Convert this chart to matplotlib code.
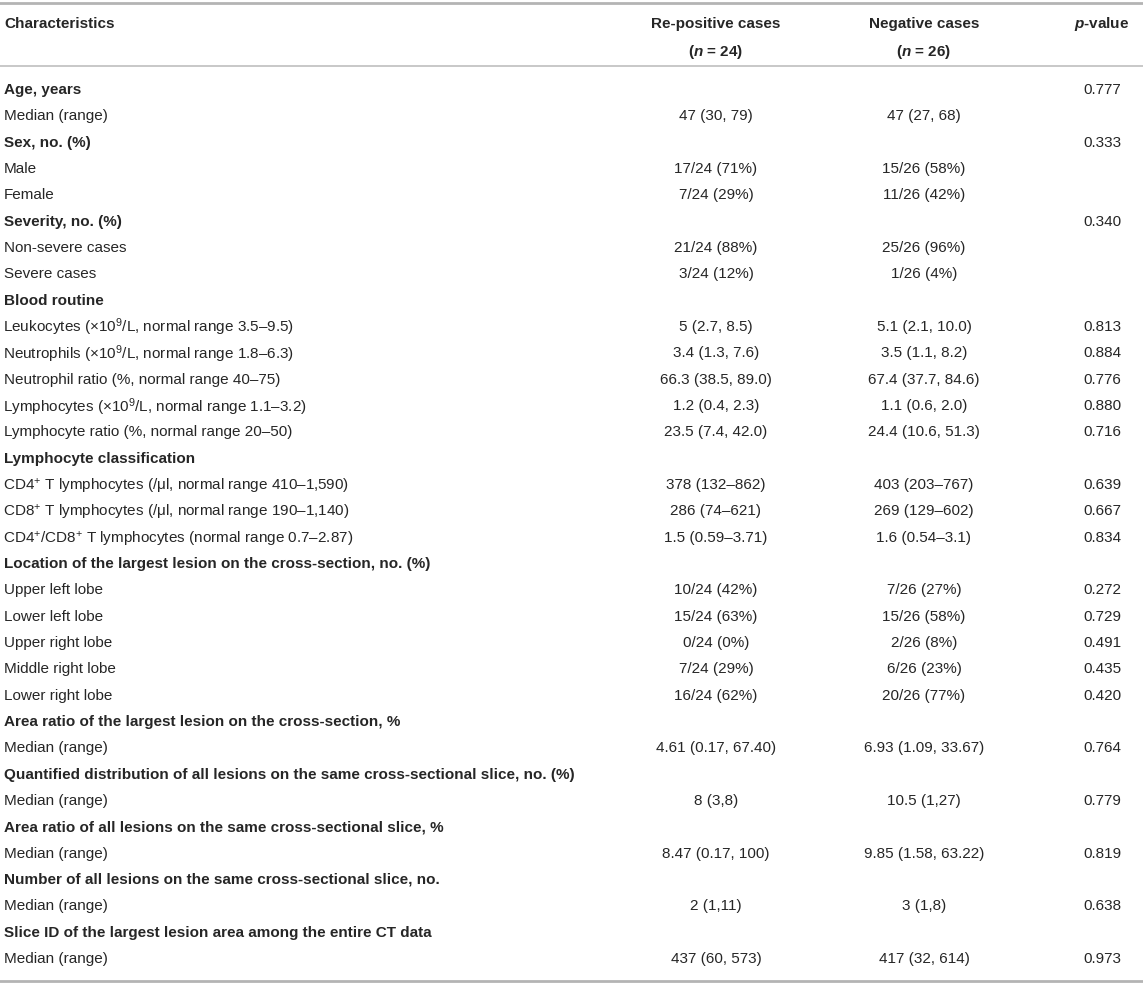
import matplotlib
matplotlib.use("Agg")
import matplotlib.pyplot as plt

plt.rcParams.update({
    "font.family": ["Liberation Sans", "DejaVu Sans"],
    "mathtext.fontset": "custom",
    "mathtext.rm": "Liberation Sans",
    "mathtext.it": "Liberation Sans:italic",
    "mathtext.bf": "Liberation Sans:bold",
    "mathtext.bfit": "Liberation Sans:italic:bold",
})

# ---- table content ----
headers = ["Characteristics", "Re-positive cases\n($\\mathbfit{n}$ = 24)",
           "Negative cases\n($\\mathbfit{n}$ = 26)", "$\\mathbfit{p}$-value"]

labels = [
    "Age, years", "Median (range)",
    "Sex, no. (%)", "Male", "Female",
    "Severity, no. (%)", "Non-severe cases", "Severe cases",
    "Blood routine",
    "Leukocytes (×10$^{9}$/L, normal range 3.5–9.5)",
    "Neutrophils (×10$^{9}$/L, normal range 1.8–6.3)",
    "Neutrophil ratio (%, normal range 40–75)",
    "Lymphocytes (×10$^{9}$/L, normal range 1.1–3.2)",
    "Lymphocyte ratio (%, normal range 20–50)",
    "Lymphocyte classification",
    "CD4$^{+}$ T lymphocytes (/μl, normal range 410–1,590)",
    "CD8$^{+}$ T lymphocytes (/μl, normal range 190–1,140)",
    "CD4$^{+}$/CD8$^{+}$ T lymphocytes (normal range 0.7–2.87)",
    "Location of the largest lesion on the cross-section, no. (%)",
    "Upper left lobe", "Lower left lobe", "Upper right lobe",
    "Middle right lobe", "Lower right lobe",
    "Area ratio of the largest lesion on the cross-section, %",
    "Median (range)",
    "Quantified distribution of all lesions on the same cross-sectional slice, no. (%)",
    "Median (range)",
    "Area ratio of all lesions on the same cross-sectional slice, %",
    "Median (range)",
    "Number of all lesions on the same cross-sectional slice, no.",
    "Median (range)",
    "Slice ID of the largest lesion area among the entire CT data",
    "Median (range)",
]

is_section = [1, 0, 1, 0, 0, 1, 0, 0, 1, 0, 0, 0, 0, 0, 1, 0, 0, 0, 1,
              0, 0, 0, 0, 0, 1, 0, 1, 0, 1, 0, 1, 0, 1, 0]

repositive = [
    "", "47 (30, 79)", "", "17/24 (71%)", "7/24 (29%)", "", "21/24 (88%)", "3/24 (12%)",
    "", "5 (2.7, 8.5)", "3.4 (1.3, 7.6)", "66.3 (38.5, 89.0)", "1.2 (0.4, 2.3)",
    "23.5 (7.4, 42.0)", "", "378 (132–862)", "286 (74–621)", "1.5 (0.59–3.71)",
    "", "10/24 (42%)", "15/24 (63%)", "0/24 (0%)", "7/24 (29%)", "16/24 (62%)",
    "", "4.61 (0.17, 67.40)", "", "8 (3,8)", "", "8.47 (0.17, 100)", "", "2 (1,11)",
    "", "437 (60, 573)",
]

negative = [
    "", "47 (27, 68)", "", "15/26 (58%)", "11/26 (42%)", "", "25/26 (96%)", "1/26 (4%)",
    "", "5.1 (2.1, 10.0)", "3.5 (1.1, 8.2)", "67.4 (37.7, 84.6)", "1.1 (0.6, 2.0)",
    "24.4 (10.6, 51.3)", "", "403 (203–767)", "269 (129–602)", "1.6 (0.54–3.1)",
    "", "7/26 (27%)", "15/26 (58%)", "2/26 (8%)", "6/26 (23%)", "20/26 (77%)",
    "", "6.93 (1.09, 33.67)", "", "10.5 (1,27)", "", "9.85 (1.58, 63.22)", "", "3 (1,8)",
    "", "417 (32, 614)",
]

pvalues = [
    "0.777", "", "0.333", "", "", "0.340", "", "", "", "0.813", "0.884", "0.776",
    "0.880", "0.716", "", "0.639", "0.667", "0.834", "", "0.272", "0.729", "0.491",
    "0.435", "0.420", "", "0.764", "", "0.779", "", "0.819", "", "0.638", "", "0.973",
]

# ---- layout (pixel coordinates) ----
W, H = 1143, 983
fig = plt.figure(figsize=(W / 100, H / 100), dpi=100)
ax = fig.add_axes([0, 0, 1, 1])
ax.set_xlim(0, W)
ax.set_ylim(H, 0)
ax.axis("off")

txt = "#262626"
fs = 11
col_x = [4, 716, 924, 1102]
col_ha = ["left", "center", "center", "center"]

# rules
ax.axhline(3, color="#b4b4b4", lw=2.0)
ax.axhline(66, color="#c4c4c4", lw=1.3)
ax.axhline(981, color="#b4b4b4", lw=2.0)

# header
ax.text(col_x[0], 28, headers[0], ha="left", va="baseline", fontsize=fs,
        fontweight="bold", color=txt)
for j in (1, 2):
    top, bot = headers[j].split("\n")
    ax.text(col_x[j], 28, top, ha="center", va="baseline", fontsize=fs,
            fontweight="bold", color=txt)
    ax.text(col_x[j], 56, bot, ha="center", va="baseline", fontsize=fs,
            fontweight="bold", color=txt)
ax.text(col_x[3], 28, headers[3], ha="center", va="baseline", fontsize=fs,
        fontweight="bold", color=txt)

# body rows
y0, y1 = 89, 958
step = (y1 - y0) / (len(labels) - 1)
for i, lab in enumerate(labels):
    yb = y0 + i * step + 5
    # mathtext labels sit a little high, nudge them down
    yl = yb + 1.5 if "$" in lab else yb
    xl = col_x[0] - 1 if "$" in lab else col_x[0]
    ax.text(xl, yl, lab, ha="left", va="baseline", fontsize=fs, color=txt,
            fontweight="bold" if is_section[i] else "normal")
    for j, vals in ((1, repositive), (2, negative), (3, pvalues)):
        if vals[i]:
            ax.text(col_x[j], yb, vals[i], ha=col_ha[j], va="baseline",
                    fontsize=fs, color=txt)

fig.savefig("out.png", dpi=100)
